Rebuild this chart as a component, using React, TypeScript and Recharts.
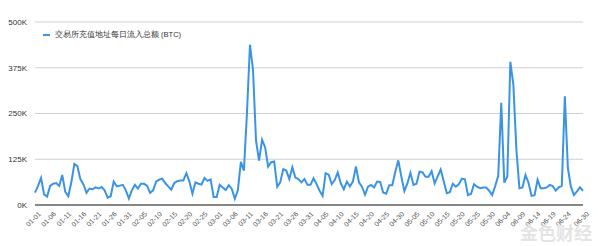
import { CartesianGrid, Line, LineChart, XAxis, YAxis } from "recharts";

// daily exchange deposit inflow, thousand BTC, 2020-01-01 .. 2020-06-30
const inflowK = [
  34, 52, 74, 29, 23, 52, 58, 60, 52, 82,
  36, 24, 62, 112, 106, 70, 56, 33, 45, 43,
  48, 45, 49, 40, 20, 24, 64, 51, 53, 55,
  40, 18, 40, 55, 45, 58, 58, 53, 33, 40,
  64, 69, 72, 60, 51, 42, 60, 65, 67, 67,
  87, 64, 31, 62, 58, 56, 74, 66, 70, 22,
  22, 55, 48, 41, 54, 44, 17, 40, 118, 94,
  250, 438, 370, 176, 121, 178, 158, 105, 117, 119,
  50, 62, 98, 94, 71, 103, 75, 71, 62, 71,
  55, 55, 73, 57, 39, 25, 87, 83, 57, 68,
  89, 59, 43, 64, 51, 64, 105, 62, 50, 28,
  50, 55, 48, 64, 63, 34, 31, 54, 54, 91,
  122, 78, 38, 59, 88, 55, 58, 91, 89, 77,
  77, 92, 59, 78, 97, 65, 32, 35, 58, 50,
  57, 72, 70, 27, 30, 57, 50, 46, 48, 48,
  39, 27, 52, 80, 279, 61, 78, 391, 329, 151,
  46, 48, 82, 61, 25, 27, 69, 46, 46, 48,
  55, 52, 39, 48, 52, 297, 101, 50, 27, 37,
  48, 39,
];

const yTicks = [0, 125, 250, 375, 500];
const seriesName = "交易所充值地址每日流入总额 (BTC)";

const pad = (n: number) => String(n).padStart(2, "0");
const dates = inflowK.map((_, i) => {
  const d = new Date(Date.UTC(2020, 0, 1 + i));
  return `${pad(d.getUTCMonth() + 1)}-${pad(d.getUTCDate())}`;
});
const xTicks = dates.filter((_, i) => (i % 5 === 0 && i < 180) || i === dates.length - 1);

const data = dates.map((date, i) => ({ date, value: inflowK[i] }));

const font = "'Liberation Sans', Arial, sans-serif";

function DateTick({ x, y, payload }: any) {
  const tx = x + 3;
  const ty = y - 2;
  return (
    <text
      x={tx}
      y={ty}
      transform={`rotate(-45 ${tx} ${ty})`}
      textAnchor="end"
      dy="0.7em"
      fontSize={7}
      fill="#555"
      fontFamily={font}
    >
      {payload.value}
    </text>
  );
}

export default function App() {
  return (
    <div style={{ position: "absolute", left: 0, top: 0, width: 600, height: 246, background: "#fff", fontFamily: font, overflow: "hidden" }}>
      <LineChart width={600} height={246} data={data} margin={{ top: 22, right: 17, bottom: 6, left: 0 }}>
        <CartesianGrid stroke="#d0d0d0" vertical={false} />
        <XAxis
          dataKey="date"
          ticks={xTicks}
          interval={0}
          tick={<DateTick />}
          tickLine={false}
          axisLine={{ stroke: "#666", strokeWidth: 1.5 }}
          height={35}
        />
        <YAxis
          ticks={yTicks}
          domain={[0, 500]}
          width={35}
          tickLine={false}
          axisLine={false}
          tickMargin={2}
          tickFormatter={(v: number) => `${v}K`}
          tick={{ fontSize: 8, fill: "#333", fontFamily: font }}
        />
        <Line
          type="linear"
          dataKey="value"
          name={seriesName}
          stroke="#3a94e6"
          strokeWidth={2}
          dot={false}
          isAnimationActive={false}
        />
      </LineChart>
      <div style={{ position: "absolute", left: 43, top: 30, display: "flex", alignItems: "center", fontSize: 7.5, color: "#333" }}>
        <span style={{ display: "inline-block", width: 7, height: 2, background: "#3a94e6", marginRight: 5 }} />
        <span>{seriesName}</span>
      </div>
      <div style={{ position: "absolute", left: 520, top: 222, fontSize: 18, lineHeight: "20px", color: "#e4e4e4", fontFamily: "'Noto Sans CJK SC', sans-serif", fontWeight: 700 }}>
        金色财经
      </div>
    </div>
  );
}
